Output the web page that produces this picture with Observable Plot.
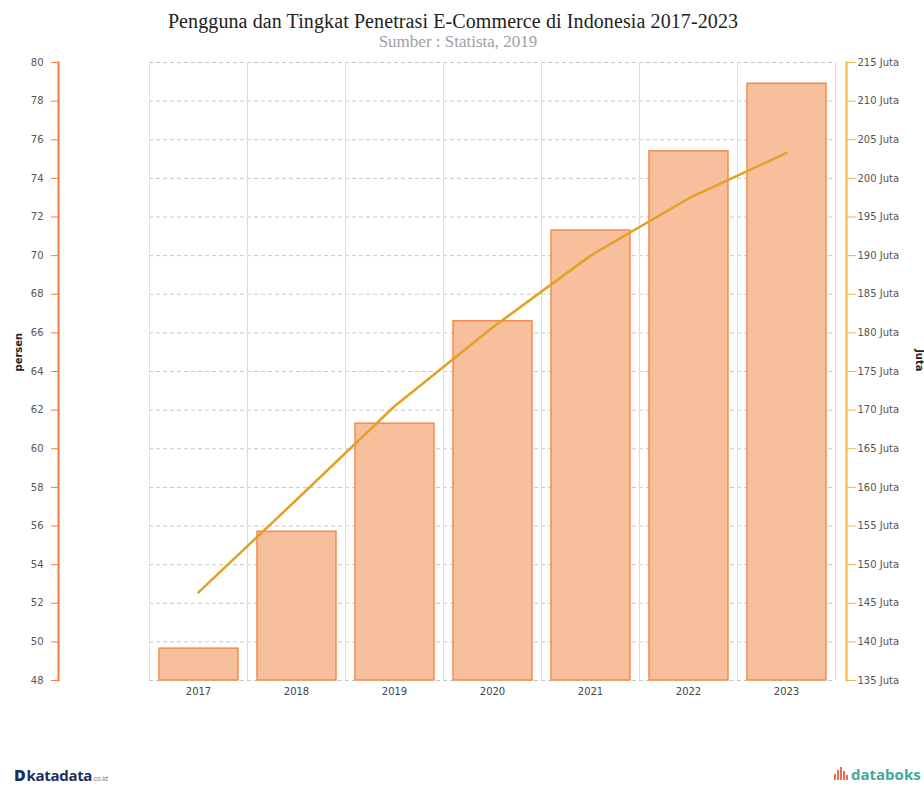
<!DOCTYPE html>
<html>
<head>
<meta charset="utf-8">
<script src="https://cdn.jsdelivr.net/npm/d3@7"></script>
<script src="https://cdn.jsdelivr.net/npm/@observablehq/plot@0.6"></script>
<style>
  body { margin: 0; background: #fff; }
  #wrap { position: relative; width: 924px; height: 786px; overflow: hidden; background: #fff; }
  #chart { position: absolute; left: 0; top: 0; }
  #title { position: absolute; left: 0; width: 906px; top: 9px; text-align: center; line-height: 24px;
           font-family: "Liberation Serif", serif; font-size: 20px; color: #222; white-space: nowrap; letter-spacing: 0.1px; }
  #sub { position: absolute; left: 0; width: 916px; top: 32px; text-align: center; line-height: 20px;
         font-family: "Liberation Serif", serif; font-size: 17px; color: #a0a0a0; white-space: nowrap; }
  #logo1 { position: absolute; left: 14px; top: 766px; line-height: 18px; font-family: "Open Sans", "DejaVu Sans", sans-serif;
           font-size: 15px; font-weight: 700; color: #1d2f5e; letter-spacing: -0.3px; white-space: nowrap; }
  #logo1 .d { font-weight: 900; font-size: 16px; margin-right: 1px; }
  #logo1 .co { font-size: 7px; font-weight: 400; color: #6b7a99; }
  #logo2 { position: absolute; left: 834px; top: 765px; line-height: 18px; font-family: "Open Sans", "DejaVu Sans", sans-serif;
           font-size: 15px; font-weight: 700; color: #3fa99b; display: flex; align-items: flex-end; white-space: nowrap; }
  #logo2 .ic { display: inline-flex; align-items: flex-end; height: 14px; margin-right: 2px; margin-bottom: 3px; }
  #logo2 .ic i { display: inline-block; width: 2px; background: #ef6a4c; margin-right: 1px; }
</style>
</head>
<body>
<div id="wrap">
  <div id="chart"></div>
  <div id="title">Pengguna dan Tingkat Penetrasi E-Commerce di Indonesia 2017-2023</div>
  <div id="sub">Sumber : Statista, 2019</div>
  <div id="logo1"><span class="d">D</span>katadata<span class="co">.co.id</span></div>
  <div id="logo2"><span class="ic"><i style="height:6px"></i><i style="height:10px"></i><i style="height:13px"></i><i style="height:9px"></i><i style="height:5px"></i></span>databoks</div>
</div>
<script>
// ---- data ----
const years = ["2017", "2018", "2019", "2020", "2021", "2022", "2023"];
const penetrasi = [49.65, 55.7, 61.3, 66.6, 71.3, 75.4, 78.9];        // persen (bars, left axis)
const pengguna = [146.4, 158.4, 170.5, 180.7, 190.0, 197.4, 203.3];   // juta (line, right axis)
const leftTicks = [48, 50, 52, 54, 56, 58, 60, 62, 64, 66, 68, 70, 72, 74, 76, 78, 80];
const rightTicks = [135, 140, 145, 150, 155, 160, 165, 170, 175, 180, 185, 190, 195, 200, 205, 210, 215];

const leftDomain = [leftTicks[0], leftTicks[leftTicks.length - 1]];
const rightDomain = [rightTicks[0], rightTicks[rightTicks.length - 1]];
const toLeft = v => leftDomain[0] + (v - rightDomain[0]) * (leftDomain[1] - leftDomain[0]) / (rightDomain[1] - rightDomain[0]);
const toRight = v => rightDomain[0] + (v - leftDomain[0]) * (rightDomain[1] - rightDomain[0]) / (leftDomain[1] - leftDomain[0]);

const data = years.map((year, i) => ({ year, penetrasi: penetrasi[i], pengguna: pengguna[i] }));
const grid = years.flatMap(year => leftTicks.map(v => ({ year, v })));

const xRange = [149, 835];
const step = (xRange[1] - xRange[0]) / years.length;

const orange = "#fa7c3c";
const gold = "#f2b548";

const chart = Plot.plot({
  width: 924,
  height: 786,
  marginTop: 62,
  marginBottom: 106,
  marginLeft: 58,
  marginRight: 78,
  style: { fontFamily: "DejaVu Sans, sans-serif", fontSize: "10px", background: "transparent" },
  x: { domain: years, range: xRange, padding: 0 },
  y: { domain: leftDomain },
  marks: [
    Plot.tickY(grid, { x: "year", y: "v", stroke: "#c8c8c8", strokeDasharray: "4,3" }),
    Plot.ruleX(years, { x: d => d, dx: -step / 2, stroke: "#dedede" }),
    Plot.ruleX([years[years.length - 1]], { x: d => d, dx: step / 2, stroke: "#dedede" }),
    Plot.barY(data, { x: "year", y1: leftDomain[0], y2: "penetrasi", fill: "#f8bf9c", stroke: "#f58a4d",
                      strokeWidth: 1.5, insetLeft: 10, insetRight: 9 }),
    Plot.lineY(data, { x: "year", y: d => toLeft(d.pengguna), stroke: "#e2a226", strokeWidth: 2.5 }),
    Plot.axisY(leftTicks, { anchor: "left", tickSize: 7, tickPadding: 8, stroke: orange, fill: "#555", label: null }),
    Plot.frame({ anchor: "left", stroke: orange, strokeWidth: 2 }),
    Plot.axisY(rightTicks.map(toLeft), { anchor: "right", tickSize: 9, tickPadding: 2, stroke: gold, fill: "#555",
                      label: null, tickFormat: v => Math.round(toRight(v)) + " Juta" }),
    Plot.frame({ anchor: "right", stroke: gold, strokeWidth: 2 }),
    Plot.axisX(years, { anchor: "bottom", tickSize: 0, tickPadding: 7, fill: "#444", label: null }),
    Plot.text(["persen"], { text: d => d, frameAnchor: "left", dx: -40, rotate: -90, fontWeight: "bold", fill: "#222" }),
    Plot.text(["Juta"], { text: d => d, frameAnchor: "right", dx: 73, rotate: 90, fontWeight: "bold", fill: "#222" })
  ]
});
document.getElementById("chart").appendChild(chart);
</script>
</body>
</html>
